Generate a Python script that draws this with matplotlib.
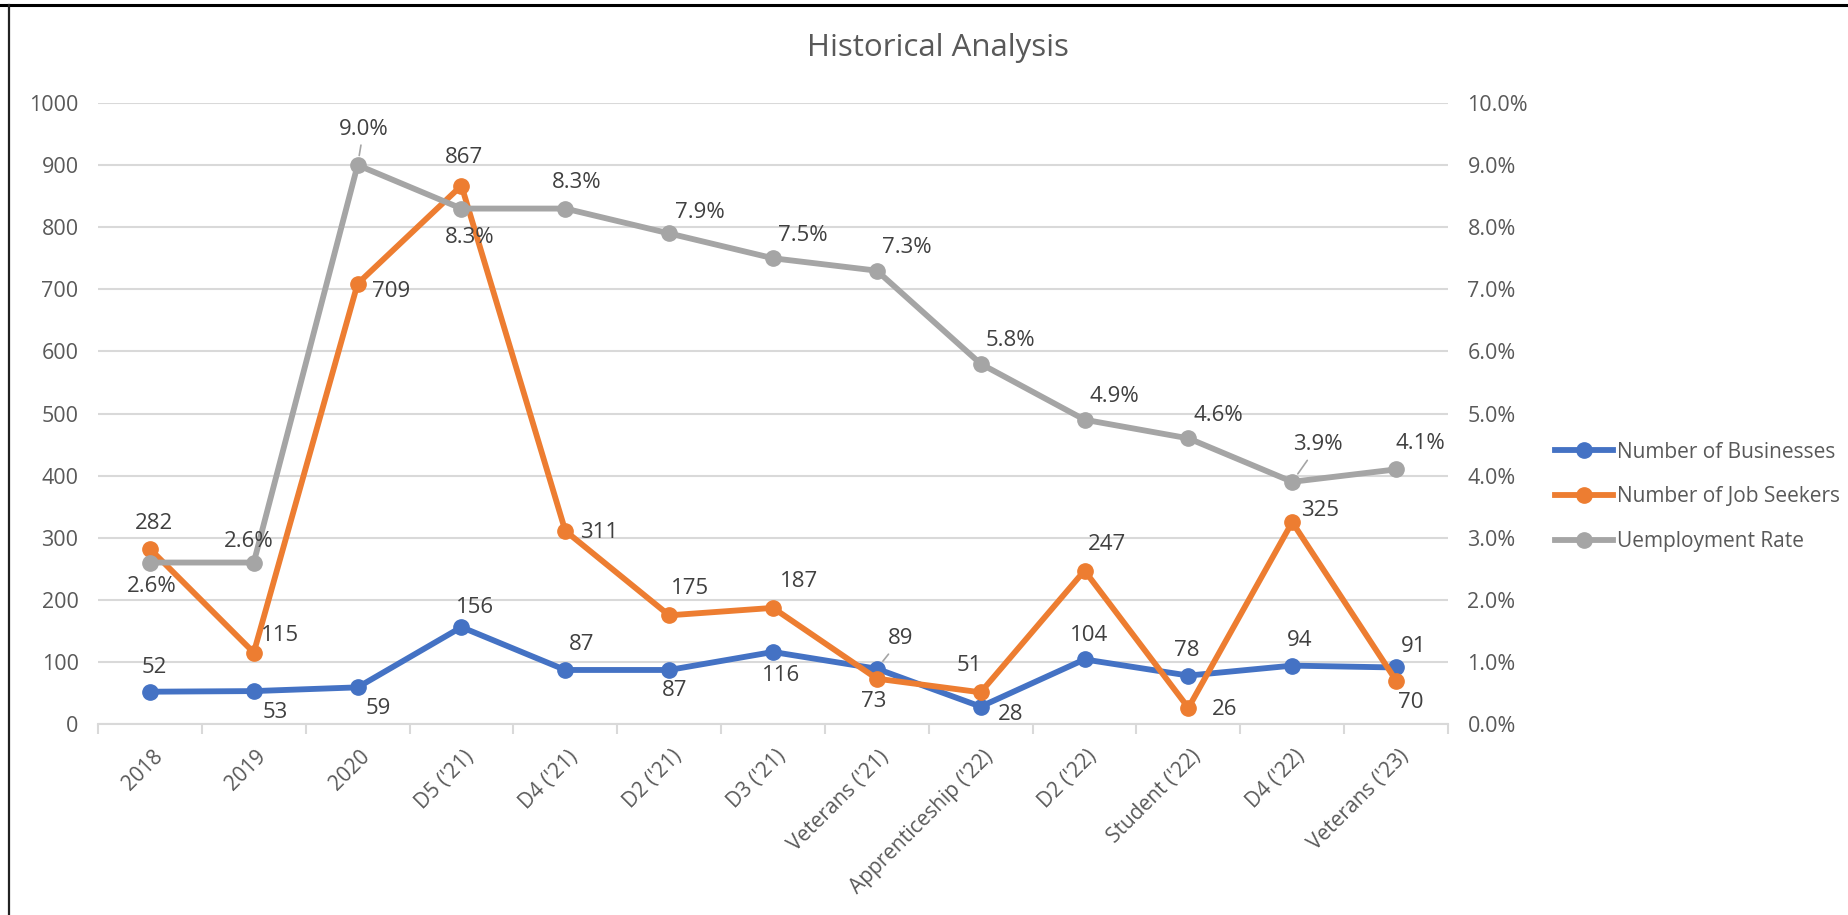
import matplotlib
matplotlib.use('Agg')
import matplotlib.pyplot as plt
from matplotlib.lines import Line2D
from matplotlib.ticker import FuncFormatter, MultipleLocator, FixedLocator
from matplotlib.transforms import ScaledTranslation

# ===================== style =====================
plt.rcParams['font.family'] = ['Open Sans', 'DejaVu Sans']
plt.rcParams['font.size'] = 15

TEXT_COLOR = '#595959'
LABEL_COLOR = '#404040'
GRID_COLOR = '#d9d9d9'
BLUE = '#4472C4'
ORANGE = '#ED7D31'
GRAY = '#A5A5A5'

# ===================== data =====================
categories = ['2018', '2019', '2020', "D5 ('21)", "D4 ('21)", "D2 ('21)", "D3 ('21)",
              "Veterans ('21)", "Apprenticeship ('22)", "D2 ('22)", "Student ('22)",
              "D4 ('22)", "Veterans ('23)"]
businesses = [52, 53, 59, 156, 87, 87, 116, 89, 28, 104, 78, 94, 91]
job_seekers = [282, 115, 709, 867, 311, 175, 187, 73, 51, 247, 26, 325, 70]
unemployment = [2.6, 2.6, 9.0, 8.3, 8.3, 7.9, 7.5, 7.3, 5.8, 4.9, 4.6, 3.9, 4.1]

# label offsets in pixels (dx, dy up)
biz_offsets = [(4, 24), (21, -21), (21, -21), (14, 20), (16, 25), (5, -21), (8, -24),
               (24, 30), (30, -8), (5, 24), (-2, 25), (7, 25), (18, 21)]
seek_offsets = [(4, 25), (26, 17), (34, -8), (3, 28), (34, -2), (21, 27), (26, 26),
                (-3, -23), (-11, 27), (22, 26), (36, -2), (28, 12), (15, -22)]
rate_offsets = [(2, -24), (-5, 21), (6, 36), (8, -29), (11, 26), (31, 21), (30, 23),
                (30, 23), (30, 23), (30, 23), (30, 23), (26, 37), (24, 26)]
biz_leader = [7]
rate_leader = [2, 11]

x = list(range(len(categories)))
LW = 4.2
MS = 11

fig = plt.figure(figsize=(18.49, 9.15), dpi=100)
ax = fig.add_axes([98 / 1849, 1 - 724 / 915, 1350 / 1849, 621 / 915])
ax2 = ax.twinx()

ax.plot(x, businesses, color=BLUE, lw=LW, marker='o', ms=MS, label='Number of Businesses',
        solid_capstyle='round', zorder=3)
ax.plot(x, job_seekers, color=ORANGE, lw=LW, marker='o', ms=MS, label='Number of Job Seekers',
        solid_capstyle='round', zorder=4)
ax2.plot(x, unemployment, color=GRAY, lw=LW, marker='o', ms=MS, label='Uemployment Rate',
         solid_capstyle='round', zorder=3)

ax.set_xlim(-0.5, len(categories) - 0.5)
ax.set_ylim(0, 1000)
ax2.set_ylim(0, 10)
ax.yaxis.set_major_locator(MultipleLocator(100))
ax2.yaxis.set_major_locator(MultipleLocator(1))
ax2.yaxis.set_major_formatter(FuncFormatter(lambda v, p: f'{v:.1f}%'))

ax.grid(True, axis='y', color=GRID_COLOR, lw=1.5, zorder=0)
ax.set_axisbelow(True)
for a in (ax, ax2):
    for s in ('top', 'left', 'right', 'bottom'):
        a.spines[s].set_visible(False)
    a.tick_params(axis='y', length=0, colors=TEXT_COLOR, labelsize=15.5)
ax.spines['bottom'].set_visible(True)
ax.spines['bottom'].set_color(GRID_COLOR)
ax.spines['bottom'].set_linewidth(1.5)
ax.tick_params(axis='y', pad=14)
ax2.tick_params(axis='y', pad=14)

ax.set_xticks(x)
ax.set_xticklabels(categories, rotation=45, ha='right', rotation_mode='anchor', color=TEXT_COLOR,
                   fontsize=15)
ax.tick_params(axis='x', which='major', length=0, pad=16)
shift = ScaledTranslation(2 / 100, 0, fig.dpi_scale_trans)
for lab in ax.get_xticklabels():
    lab.set_transform(lab.get_transform() + shift)
ax.xaxis.set_minor_locator(FixedLocator([i - 0.5 for i in range(len(categories) + 1)]))
ax.tick_params(axis='x', which='minor', length=7, width=1.5, color=GRID_COLOR)


def put_labels(axis, vals, offs, fmt, leaders):
    for i, (v, (dx, dy)) in enumerate(zip(vals, offs)):
        kw = {}
        if i in leaders:
            kw['arrowprops'] = dict(arrowstyle='-', color=GRAY, lw=1.2, shrinkA=2, shrinkB=7)
        axis.annotate(fmt(v), (i, v), xytext=(dx, dy), textcoords='offset pixels',
                      ha='center', va='center', fontsize=16, color=LABEL_COLOR, zorder=6, **kw)


put_labels(ax, businesses, biz_offsets, lambda v: f'{v}', biz_leader)
put_labels(ax, job_seekers, seek_offsets, lambda v: f'{v}', [])
put_labels(ax2, unemployment, rate_offsets, lambda v: f'{v:.1f}%', rate_leader)

fig.text(938 / 1849, 1 - 48 / 915, 'Historical Analysis', ha='center', va='center',
         fontsize=22.5, color=TEXT_COLOR)

handles = [Line2D([0], [0], color=c, lw=LW, marker='o', ms=MS) for c in (BLUE, ORANGE, GRAY)]
labels = ['Number of Businesses', 'Number of Job Seekers', 'Uemployment Rate']
fig.legend(handles, labels, loc='center left', bbox_to_anchor=(1555 / 1849, 1 - 497 / 915),
           frameon=False, fontsize=15, labelcolor=TEXT_COLOR, handlelength=2.8,
           handletextpad=0.2, labelspacing=1.15, borderpad=0, borderaxespad=0)

# outer border (top and left edges of the screenshot)
fig.add_artist(Line2D([0, 1], [1 - 4.5 / 915, 1 - 4.5 / 915], transform=fig.transFigure,
                      color='black', lw=2.2))
fig.add_artist(Line2D([9 / 1849, 9 / 1849], [0, 1 - 4.5 / 915], transform=fig.transFigure,
                      color='#222222', lw=1.6))

fig.savefig('out.png', dpi=100, facecolor='white')
